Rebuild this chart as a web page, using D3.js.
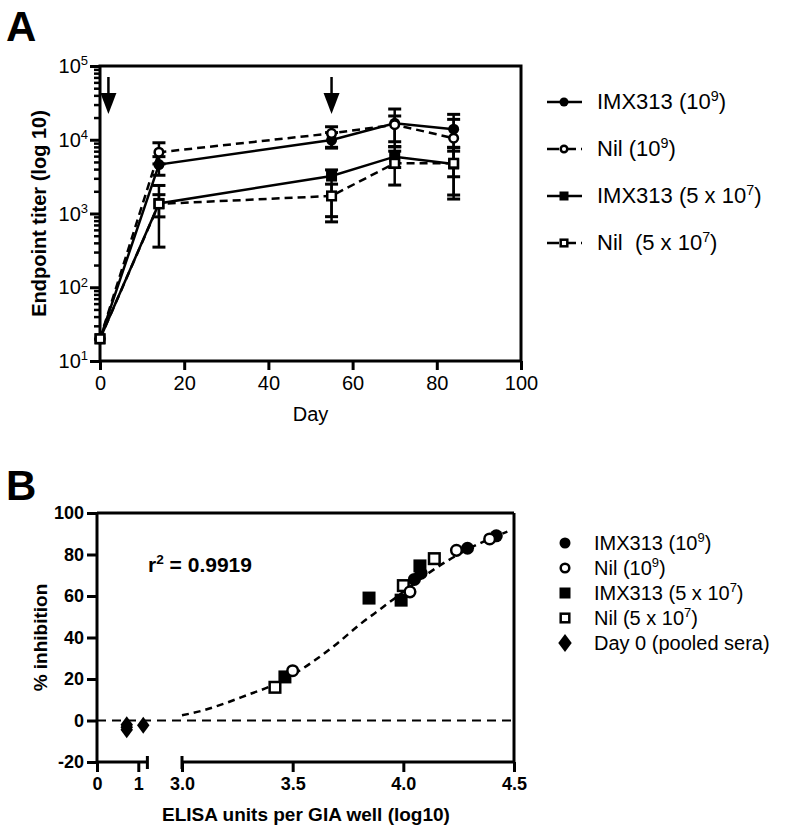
<!DOCTYPE html>
<html><head><meta charset="utf-8">
<script src="https://cdn.jsdelivr.net/npm/d3@7"></script>
<style>
body{margin:0;background:#fff}
svg{display:block}
text{font-family:"Liberation Sans",Arial,Helvetica,sans-serif;fill:#000;white-space:pre}
</style>
</head><body>
<svg id="c" width="790" height="831"></svg>
<script>
// ---------- Panel A data ----------
const days = [0, 14, 55, 70, 84];
const imx9   = [20, 4600, 9900, 16700, 13900];
const imx9Lo = [null, 3300, 7900, 8100, 7000];
const imx9Hi = [null, 5900, 12500, 26100, 22100];
const nil9   = [20, 6760, 12200, 16000, 10500];
const nil9Lo = [null, 4700, 7700, 9400, 3150];
const nil9Hi = [null, 9100, 15000, 21000, 18900];
const imx5   = [20, 1370, 3220, 5900, 4690];
const imx5Lo = [null, 350, 906, 4200, 1570];
const imx5Hi = [null, 2400, 3900, 8000, 7900];
const nil5   = [20, 1350, 1730, 4800, 4800];
const nil5Lo = [null, 900, 770, 2430, 1780];
const nil5Hi = [null, 1800, 2500, 7000, 7800];
const arrowDays = [2, 55];
const xTicksA = [0, 20, 40, 60, 80, 100];
const yExpA = [1, 2, 3, 4, 5];
const legendA = [["IMX313 (10", "9", ")"], ["Nil (10", "9", ")"], ["IMX313 (5 x 10", "7", ")"], ["Nil  (5 x 10", "7", ")"]];

// ---------- Panel B data ----------
const imx9X = [4.05, 4.08, 4.29, 4.42];
const imx9Y = [68, 71, 83, 89];
const nil9X = [3.50, 4.03, 4.24, 4.39];
const nil9Y = [24, 62, 82, 87.5];
const imx5X = [3.465, 3.845, 3.99, 4.075];
const imx5Y = [21, 59, 58, 74.5];
const nil5X = [3.42, 4.00, 4.14];
const nil5Y = [16, 65, 78];
const day0X = [0.72, 0.72, 0.72, 1.12];
const day0Y = [-2, -3.2, -4.5, -2.3];
const fitX = [3.0, 3.1, 3.2, 3.3, 3.4, 3.5, 3.6, 3.7, 3.8, 3.9, 4.0, 4.1, 4.2, 4.3, 4.4, 4.47];
const fitY = [2.5, 5, 8.5, 12.5, 16.5, 22, 29, 37, 46, 54, 62, 70, 77, 83, 88, 91];
const yTicksB = [-20, 0, 20, 40, 60, 80, 100];
const xTicksBLow = [0, 1];
const xTicksBHigh = [3.0, 3.5, 4.0, 4.5];
const r2Text = "0.9919";
const legendB = [["IMX313 (10", "9", ")"], ["Nil (10", "9", ")"], ["IMX313 (5 x 10", "7", ")"], ["Nil (5 x 10", "7", ")"], ["Day 0 (pooled sera)", "", ""]];

const FONT = "Liberation Sans, Arial, sans-serif";
const svg = d3.select("#c");

function supText(g, x, y, parts, size, weight, anchor) {
  const t = g.append("text").attr("x", x).attr("y", y).attr("font-size", size)
    .attr("font-weight", weight || "normal").attr("text-anchor", anchor || "start");
  t.append("tspan").text(parts[0]);
  if (parts[1]) t.append("tspan").attr("font-size", size * 0.65).attr("dy", -size * 0.38).text(parts[1]);
  if (parts[2]) t.append("tspan").attr("dy", parts[1] ? size * 0.38 : 0).text(parts[2]);
  return t;
}

function marker(g, type, cx, cy, s) {
  if (type === "fc") g.append("circle").attr("cx", cx).attr("cy", cy).attr("r", s / 2).attr("fill", "#000");
  if (type === "oc") g.append("circle").attr("cx", cx).attr("cy", cy).attr("r", s / 2 - 1.2).attr("fill", "#fff").attr("stroke", "#000").attr("stroke-width", 2.5);
  if (type === "fs") g.append("rect").attr("x", cx - s / 2).attr("y", cy - s / 2).attr("width", s).attr("height", s).attr("fill", "#000");
  if (type === "os") g.append("rect").attr("x", cx - s / 2 + 1.2).attr("y", cy - s / 2 + 1.2).attr("width", s - 2.4).attr("height", s - 2.4).attr("fill", "#fff").attr("stroke", "#000").attr("stroke-width", 2.5);
  if (type === "di") g.append("path").attr("d", `M${cx},${cy - s * 0.65}L${cx + s * 0.48},${cy}L${cx},${cy + s * 0.65}L${cx - s * 0.48},${cy}Z`).attr("fill", "#000");
}

// ================= Panel A =================
const xA = d3.scaleLinear().domain([0, 100]).range([100, 521]);
const yA = d3.scaleLog().domain([10, 1e5]).range([361, 66]);
const gA = svg.append("g");

svg.append("text").attr("x", 6).attr("y", 41).attr("font-size", 42).attr("font-weight", "bold").text("A");

gA.append("rect").attr("x", xA(0)).attr("y", yA(1e5)).attr("width", xA(100) - xA(0)).attr("height", yA(10) - yA(1e5))
  .attr("fill", "none").attr("stroke", "#000").attr("stroke-width", 3);

const minorA = yA.ticks().filter(v => Math.abs(Math.log10(v) - Math.round(Math.log10(v))) > 1e-6);
gA.append("g").attr("transform", `translate(${xA(0)},0)`)
  .call(d3.axisLeft(yA).tickValues(minorA).tickSize(6).tickFormat(""))
  .call(g => g.select(".domain").remove())
  .call(g => g.selectAll("line").attr("stroke-width", 2.5));
gA.append("g").attr("transform", `translate(${xA(0)},0)`)
  .call(d3.axisLeft(yA).tickValues(yExpA.map(e => Math.pow(10, e))).tickSize(10).tickFormat(""))
  .call(g => g.select(".domain").remove())
  .call(g => g.selectAll("line").attr("stroke-width", 3));
yExpA.forEach(e => {
  supText(gA, 88, yA(Math.pow(10, e)) + 7, ["10", String(e), ""], 20, "normal", "end");
});
gA.append("g").attr("transform", `translate(0,${yA(10)})`)
  .call(d3.axisBottom(xA).tickValues(xTicksA).tickSize(9).tickPadding(6).tickFormat(d3.format("d")))
  .call(g => g.select(".domain").remove())
  .call(g => g.selectAll("line").attr("stroke-width", 3))
  .call(g => g.selectAll("text").attr("font-size", 20).attr("font-family", FONT));

gA.append("text").attr("x", xA(50)).attr("y", 421).attr("font-size", 20).attr("text-anchor", "middle").text("Day");
gA.append("text").attr("transform", `translate(46,${(yA(10) + yA(1e5)) / 2}) rotate(-90)`)
  .attr("font-size", 20).attr("font-weight", "bold").attr("text-anchor", "middle").text("Endpoint titer (log 10)");

arrowDays.forEach(d => {
  const ax = xA(d);
  gA.append("line").attr("x1", ax).attr("x2", ax).attr("y1", 77).attr("y2", 96).attr("stroke", "#000").attr("stroke-width", 2.5);
  gA.append("path").attr("d", `M${ax - 8},93L${ax + 8},93L${ax},114Z`).attr("fill", "#000");
});

const seriesA = [
  { v: imx9, lo: imx9Lo, hi: imx9Hi, m: "fc", dash: null },
  { v: nil9, lo: nil9Lo, hi: nil9Hi, m: "oc", dash: "8,5" },
  { v: imx5, lo: imx5Lo, hi: imx5Hi, m: "fs", dash: null },
  { v: nil5, lo: nil5Lo, hi: nil5Hi, m: "os", dash: "8,5" }
];
const lineA = d3.line().x((d, i) => xA(days[i])).y(d => yA(d));
seriesA.forEach(s => {
  gA.append("path").attr("d", lineA(s.v)).attr("fill", "none").attr("stroke", "#000").attr("stroke-width", 2.5)
    .attr("stroke-dasharray", s.dash);
});
seriesA.forEach(s => {
  days.forEach((d, i) => {
    if (s.lo[i] == null) return;
    const cx = xA(d);
    gA.append("line").attr("x1", cx).attr("x2", cx).attr("y1", yA(s.lo[i])).attr("y2", yA(s.hi[i])).attr("stroke", "#000").attr("stroke-width", 2.5);
    [s.lo[i], s.hi[i]].forEach(v => gA.append("line").attr("x1", cx - 6.5).attr("x2", cx + 6.5).attr("y1", yA(v)).attr("y2", yA(v)).attr("stroke", "#000").attr("stroke-width", 3));
  });
});
seriesA.forEach(s => {
  days.forEach((d, i) => marker(gA, s.m, xA(d), yA(s.v[i]), 11));
});

legendA.forEach((lab, i) => {
  const cy = 102 + i * 47;
  const s = seriesA[i];
  gA.append("line").attr("x1", 547).attr("x2", 582).attr("y1", cy).attr("y2", cy).attr("stroke", "#000").attr("stroke-width", 2.5)
    .attr("stroke-dasharray", s.dash ? "12,5" : null);
  marker(gA, s.m, 564, cy, 9);
  supText(gA, 597, cy + 7, lab, 22, "normal", "start");
});

// ================= Panel B =================
const gB = svg.append("g");
svg.append("text").attr("x", 6).attr("y", 500).attr("font-size", 42).attr("font-weight", "bold").text("B");

const xBL = d3.scaleLinear().domain([0, 1]).range([97, 138.3]);
const xBH = d3.scaleLinear().domain([3.0, 4.5]).range([182, 514]);
const yB = d3.scaleLinear().domain([-20, 100]).range([762, 513]);
const xB = v => v < 2 ? xBL(v) : xBH(v);
const hyphenFmt = d => String(d).replace("\u2212", "-");

gB.append("line").attr("x1", 97).attr("x2", xBH(4.5)).attr("y1", yB(100)).attr("y2", yB(100)).attr("stroke", "#000").attr("stroke-width", 3);
gB.append("line").attr("x1", xBH(4.5)).attr("x2", xBH(4.5)).attr("y1", yB(100)).attr("y2", yB(-20)).attr("stroke", "#000").attr("stroke-width", 3);
gB.append("g").attr("transform", `translate(${xBL(0)},0)`)
  .call(d3.axisLeft(yB).tickValues(yTicksB).tickSize(10).tickPadding(3).tickFormat(hyphenFmt))
  .call(g => g.select(".domain").attr("stroke-width", 3).attr("d", `M0,${yB(100)}V${yB(-20)}`))
  .call(g => g.selectAll("line").attr("stroke-width", 3))
  .call(g => g.selectAll("text").attr("font-size", 18).attr("font-weight", "bold").attr("font-family", FONT));
const brk = 1.22;
gB.append("g").attr("transform", `translate(0,${yB(-20)})`)
  .call(d3.axisBottom(xBL).tickValues(xTicksBLow).tickSize(10).tickPadding(5).tickFormat(d3.format("d")))
  .call(g => g.select(".domain").attr("stroke-width", 3).attr("d", `M${xBL(0)},0H${xBL(brk)}`))
  .call(g => g.selectAll("line").attr("stroke-width", 3))
  .call(g => g.selectAll("text").attr("font-size", 18).attr("font-weight", "bold").attr("font-family", FONT));
gB.append("g").attr("transform", `translate(0,${yB(-20)})`)
  .call(d3.axisBottom(xBH).tickValues(xTicksBHigh).tickSize(10).tickPadding(5).tickFormat(d3.format(".1f")))
  .call(g => g.select(".domain").attr("stroke-width", 3).attr("d", `M${xBH(3.0)},0H${xBH(4.5)}`))
  .call(g => g.selectAll("line").attr("stroke-width", 3))
  .call(g => g.selectAll("text").attr("font-size", 18).attr("font-weight", "bold").attr("font-family", FONT));
[xBL(brk), xBH(3.0)].forEach(bx => gB.append("line").attr("x1", bx).attr("x2", bx).attr("y1", yB(-20) - 6).attr("y2", yB(-20) + 7).attr("stroke", "#000").attr("stroke-width", 3));

gB.append("text").attr("x", 306).attr("y", 821).attr("font-size", 19).attr("font-weight", "bold").attr("text-anchor", "middle").text("ELISA units per GIA well (log10)");
gB.append("text").attr("transform", `translate(47,${(yB(100) + yB(-20)) / 2}) rotate(-90)`)
  .attr("font-size", 19).attr("font-weight", "bold").attr("text-anchor", "middle").text("% inhibition");

supText(gB, 148, 572, ["r", "2", " = " + r2Text], 21, "bold", "start");

gB.append("line").attr("x1", xBL(0)).attr("x2", xBH(4.5)).attr("y1", yB(0)).attr("y2", yB(0))
  .attr("stroke", "#000").attr("stroke-width", 2).attr("stroke-dasharray", "9,6");
const fitLine = d3.line().x((d, i) => xBH(fitX[i])).y(d => yB(d)).curve(d3.curveMonotoneX);
gB.append("path").attr("d", fitLine(fitY)).attr("fill", "none").attr("stroke", "#000").attr("stroke-width", 2.5).attr("stroke-dasharray", "7,5");

day0X.forEach((v, i) => marker(gB, "di", xB(v), yB(day0Y[i]), 13));
imx5X.forEach((v, i) => marker(gB, "fs", xB(v), yB(imx5Y[i]), 13));
nil5X.forEach((v, i) => marker(gB, "os", xB(v), yB(nil5Y[i]), 13));
imx9X.forEach((v, i) => marker(gB, "fc", xB(v), yB(imx9Y[i]), 13));
nil9X.forEach((v, i) => marker(gB, "oc", xB(v), yB(nil9Y[i]), 13));

const legMarkB = ["fc", "oc", "fs", "os", "di"];
legendB.forEach((lab, i) => {
  const cy = 543 + i * 25;
  marker(gB, legMarkB[i], 565, cy, legMarkB[i] === "di" ? 14 : 11);
  supText(gB, 594, cy + 7, lab, 20, "normal", "start");
});
</script>
</body></html>
